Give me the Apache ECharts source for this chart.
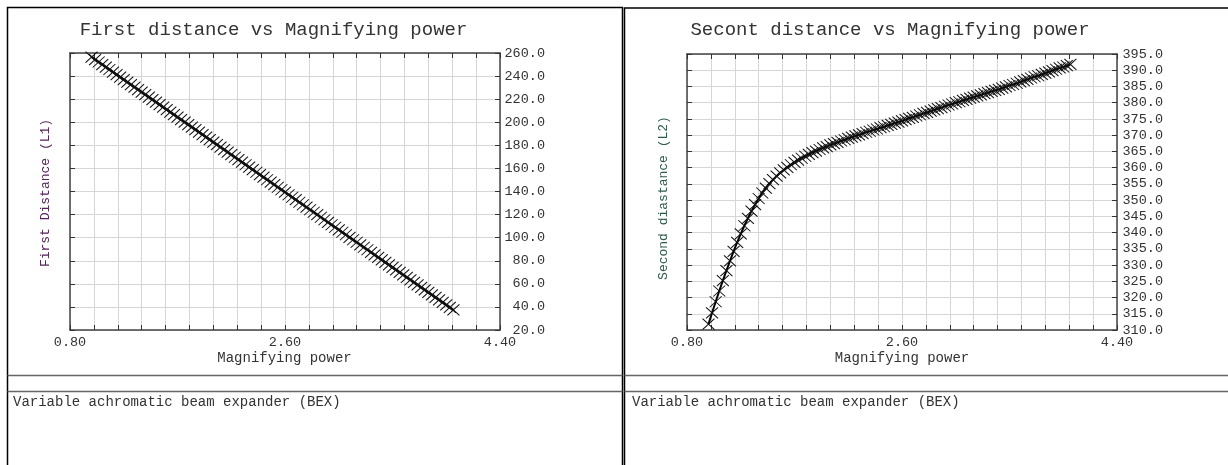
<!DOCTYPE html>
<html>
<head>
<meta charset="utf-8">
<script src="https://cdn.jsdelivr.net/npm/echarts@6/dist/echarts.min.js"></script>
<style>
  html, body { margin: 0; padding: 0; background: #fff; }
  #chart { width: 1228px; height: 465px; }
</style>
</head>
<body>
<div id="chart"></div>
<script>
// Magnifying power sweep of the variable achromatic beam expander
const magnification = [
  0.98, 1.01, 1.04, 1.07, 1.10, 1.13, 1.16, 1.19, 1.22, 1.25,
  1.28, 1.31, 1.34, 1.37, 1.40, 1.43, 1.46, 1.49, 1.52, 1.55,
  1.58, 1.61, 1.64, 1.67, 1.70, 1.73, 1.76, 1.79, 1.82, 1.85,
  1.88, 1.91, 1.94, 1.97, 2.00, 2.03, 2.06, 2.09, 2.12, 2.15,
  2.18, 2.21, 2.24, 2.27, 2.30, 2.33, 2.36, 2.39, 2.42, 2.45,
  2.48, 2.51, 2.54, 2.57, 2.60, 2.63, 2.66, 2.69, 2.72, 2.75,
  2.78, 2.81, 2.84, 2.87, 2.90, 2.93, 2.96, 2.99, 3.02, 3.05,
  3.08, 3.11, 3.14, 3.17, 3.20, 3.23, 3.26, 3.29, 3.32, 3.35,
  3.38, 3.41, 3.44, 3.47, 3.50, 3.53, 3.56, 3.59, 3.62, 3.65,
  3.68, 3.71, 3.74, 3.77, 3.80, 3.83, 3.86, 3.89, 3.92, 3.95,
  3.98, 4.01
];

// First distance L1 for each magnification
const firstDistance = [
  256.5, 254.3, 252.2, 250.0, 247.8, 245.7, 243.5, 241.3, 239.1, 237.0,
  234.8, 232.6, 230.5, 228.3, 226.1, 224.0, 221.8, 219.6, 217.5, 215.3,
  213.1, 211.0, 208.8, 206.6, 204.4, 202.3, 200.1, 197.9, 195.8, 193.6,
  191.4, 189.3, 187.1, 184.9, 182.8, 180.6, 178.4, 176.3, 174.1, 171.9,
  169.7, 167.6, 165.4, 163.2, 161.1, 158.9, 156.7, 154.6, 152.4, 150.2,
  148.1, 145.9, 143.7, 141.5, 139.4, 137.2, 135.0, 132.9, 130.7, 128.5,
  126.4, 124.2, 122.0, 119.9, 117.7, 115.5, 113.3, 111.2, 109.0, 106.8,
  104.7, 102.5, 100.3, 98.2, 96.0, 93.8, 91.7, 89.5, 87.3, 85.1,
  83.0, 80.8, 78.6, 76.5, 74.3, 72.1, 70.0, 67.8, 65.6, 63.5,
  61.3, 59.1, 56.9, 54.8, 52.6, 50.4, 48.3, 46.1, 43.9, 41.8,
  39.6, 37.4
];

// Second distance L2 for each magnification
const secondDistance = [
  311.8, 315.3, 318.7, 322.0, 325.2, 328.3, 331.3, 334.2, 337.0, 339.6,
  342.1, 344.4, 346.6, 348.6, 350.5, 352.2, 353.7, 355.1, 356.3, 357.4,
  358.4, 359.3, 360.1, 360.9, 361.6, 362.3, 362.9, 363.5, 364.1, 364.6,
  365.1, 365.6, 366.1, 366.5, 367.0, 367.4, 367.8, 368.2, 368.6, 369.0,
  369.4, 369.8, 370.1, 370.5, 370.9, 371.2, 371.6, 371.9, 372.3, 372.6,
  373.0, 373.3, 373.7, 374.0, 374.4, 374.8, 375.2, 375.5, 375.9, 376.3,
  376.7, 377.0, 377.4, 377.8, 378.2, 378.5, 378.9, 379.3, 379.6, 380.0,
  380.3, 380.7, 381.0, 381.4, 381.7, 382.1, 382.4, 382.8, 383.1, 383.5,
  383.8, 384.1, 384.5, 384.9, 385.3, 385.6, 386.0, 386.4, 386.8, 387.2,
  387.6, 388.0, 388.3, 388.7, 389.1, 389.5, 389.9, 390.3, 390.7, 391.0,
  391.4, 391.8
];

// Labelled ticks on the magnifying power axis
const xTickLabels = ['0.80', '2.60', '4.40'];

const titles = ['First distance vs Magnifying power', 'Secont distance vs Magnifying power'];
const yNames = ['First Distance (L1)', 'Second diastance (L2)'];
const xName = 'Magnifying power';
const footer = 'Variable achromatic beam expander (BEX)';

const MONO = '"Liberation Mono", "Courier New", "DejaVu Sans Mono", monospace';
const crossSymbol = 'path://M0,0L10,10M0,10L10,0';

function xAxes(gridIndex) {
  const common = {
    gridIndex, type: 'value', min: 0.8, max: 4.4, interval: 0.2,
    axisLine: { onZero: false, lineStyle: { color: '#444', width: 1.5 } },
    axisTick: { inside: true, length: 5, lineStyle: { color: '#333', width: 1 } }
  };
  return [
    Object.assign({}, common, {
      position: 'bottom',
      axisLabel: {
        show: true, margin: 5, showMinLabel: true, showMaxLabel: true,
        color: '#333', fontFamily: MONO, fontSize: 13.5,
        formatter: v => { const s = v.toFixed(2); return xTickLabels.includes(s) ? s : ''; }
      },
      splitLine: { show: true, lineStyle: { color: '#d6d6d6', width: 1 } }
    }),
    Object.assign({}, common, {
      position: 'top',
      axisLabel: { show: false },
      splitLine: { show: false }
    })
  ];
}

function yAxes(gridIndex, min, max, interval, margin) {
  const common = {
    gridIndex, type: 'value', min, max, interval,
    axisLine: { onZero: false, lineStyle: { color: '#444', width: 1.5 } },
    axisTick: { inside: true, length: 5, lineStyle: { color: '#333', width: 1 } }
  };
  return [
    Object.assign({}, common, {
      position: 'right',
      axisLabel: {
        show: true, align: 'right', margin, showMinLabel: true, showMaxLabel: true,
        color: '#333', fontFamily: MONO, fontSize: 13.5,
        formatter: v => v.toFixed(1)
      },
      splitLine: { show: true, lineStyle: { color: '#d6d6d6', width: 1 } }
    }),
    Object.assign({}, common, {
      position: 'left',
      axisLabel: { show: false },
      splitLine: { show: false }
    })
  ];
}

function markSeries(xIdx, yIdx, values) {
  return {
    type: 'line',
    xAxisIndex: xIdx, yAxisIndex: yIdx,
    data: magnification.map((m, i) => [m, values[i]]),
    symbol: crossSymbol,
    symbolSize: [12, 11],
    showSymbol: true,
    lineStyle: { color: '#000', width: 2 },
    itemStyle: { color: '#000', borderColor: '#111', borderWidth: 1 },
    emphasis: { disabled: true },
    z: 5
  };
}

function text(x, y, str, opts) {
  return Object.assign({
    type: 'text', x, y, silent: true,
    style: Object.assign({
      text: str, font: '14px ' + MONO, fill: '#333', align: 'left', verticalAlign: 'middle'
    }, opts && opts.style || {})
  }, opts && opts.el || {});
}

function hline(x1, x2, y, color, w) {
  return { type: 'line', silent: true, shape: { x1, y1: y, x2, y2: y }, style: { stroke: color, lineWidth: w } };
}

const chart = echarts.init(document.getElementById('chart'), null, { renderer: 'canvas' });

chart.setOption({
  animation: false,
  backgroundColor: '#fff',
  grid: [
    { left: 70, top: 53, width: 430, height: 277 },
    { left: 687, top: 54, width: 430, height: 276 }
  ],
  xAxis: [...xAxes(0), ...xAxes(1)],
  yAxis: [...yAxes(0, 20, 260, 20, 45), ...yAxes(1, 310, 395, 5, 46)],
  series: [
    markSeries(0, 0, firstDistance),
    markSeries(2, 2, secondDistance)
  ],
  graphic: [
    // panel frames
    { type: 'rect', silent: true, shape: { x: 7.5, y: 7.5, width: 615, height: 480 },
      style: { fill: 'none', stroke: '#000', lineWidth: 1.5 } },
    { type: 'rect', silent: true, shape: { x: 624.5, y: 8, width: 620, height: 480 },
      style: { fill: 'none', stroke: '#000', lineWidth: 1.5 } },
    // footer separators
    hline(7.5, 622.5, 375.5, '#666', 1.5),
    hline(7.5, 622.5, 391.5, '#666', 1.5),
    hline(624.5, 1228, 375.5, '#666', 1.5),
    hline(624.5, 1228, 391.5, '#666', 1.5),
    // titles
    text(273.5, 30, titles[0], { style: { font: '19px ' + MONO, align: 'center' } }),
    text(890, 30, titles[1], { style: { font: '19px ' + MONO, align: 'center' } }),
    // x axis names
    text(284.5, 358, xName, { style: { align: 'center' } }),
    text(902, 358, xName, { style: { align: 'center' } }),
    // y axis names
    text(46, 193, yNames[0], { style: { font: '13px ' + MONO, align: 'center', fill: '#55225a' }, el: { rotation: Math.PI / 2 } }),
    text(664, 198, yNames[1], { style: { font: '13px ' + MONO, align: 'center', fill: '#2f5a4c' }, el: { rotation: Math.PI / 2 } }),
    // footer captions
    text(13, 402, footer),
    text(632, 402, footer)
  ]
});
</script>
</body>
</html>
